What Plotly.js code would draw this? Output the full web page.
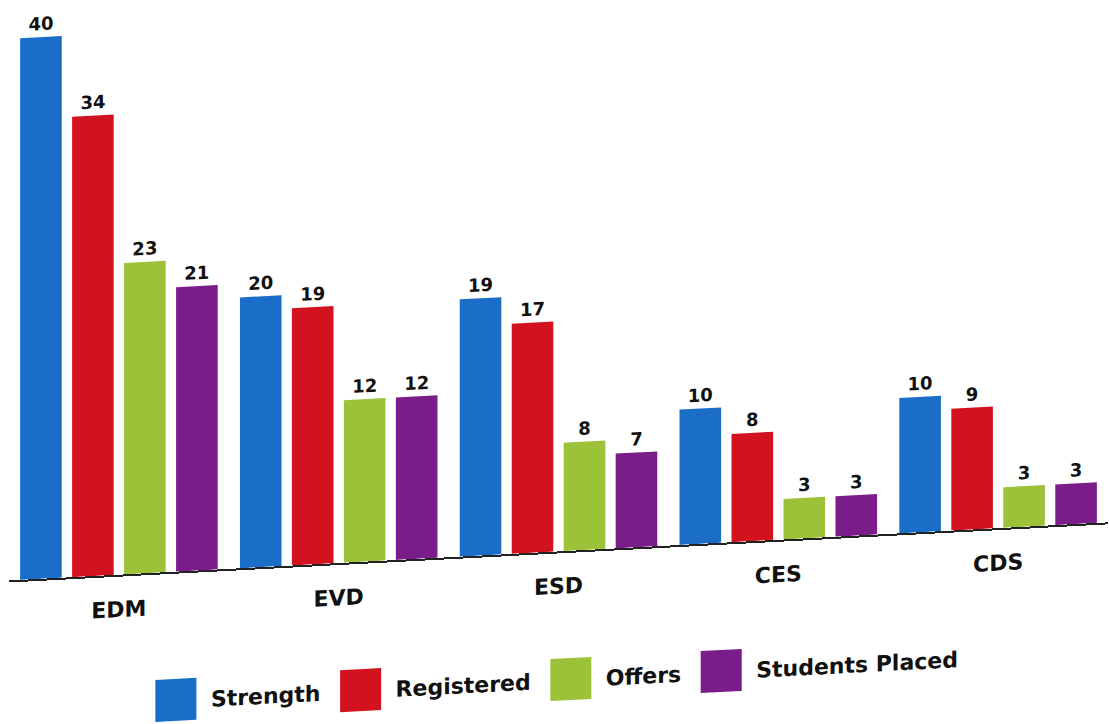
<!DOCTYPE html>
<html><head><meta charset="utf-8">
<script src="https://cdn.plot.ly/plotly-3.0.1.min.js"></script>
<style>
html,body{margin:0;padding:0;background:#fff;overflow:hidden;width:1109px;height:724px;}
#chart{width:1109px;height:760px;transform:skewY(-3.03deg);transform-origin:0 0;}
#chart .legend .scrollbox{clip-path:none !important;}
#chart .legend .legendpoints path{transform:translate(35px,0px) scale(3.42,3.5);}
</style></head><body><div id="chart"></div>
<script>
const categories = ['EDM', 'EVD', 'ESD', 'CES', 'CDS'];
const strength = [40, 20, 19, 10, 10];
const registered = [34, 19, 17, 8, 9];
const offers = [23, 12, 8, 3, 3];
const placed = [21, 12, 7, 3, 3];
const seriesNames = ['Strength', 'Registered', 'Offers', 'Students Placed'];
const seriesColors = ['#1b6ec8', '#d3121f', '#9cc23a', '#7a1d8a'];

const seriesValues = [strength, registered, offers, placed];
const FONT = 'DejaVu Sans, Liberation Sans, Arial, sans-serif';

const traces = seriesValues.map((vals, i) => ({
  type: 'bar',
  name: seriesNames[i],
  x: categories,
  y: vals,
  marker: {color: seriesColors[i], line: {width: 0}},
  text: vals.map(String),
  texttemplate: '%{text}',
  textposition: 'outside',
  textfont: {family: FONT, size: 18, color: '#111', weight: 'bold'},
  cliponaxis: false,
  constraintext: 'none',
  hoverinfo: 'skip'
}));

const layout = {
  width: 1109,
  height: 760,
  margin: {l: 9, r: 1, t: 0, b: 178.5},
  paper_bgcolor: '#fff',
  plot_bgcolor: '#fff',
  barmode: 'group',
  bargap: 0.054,
  bargroupgap: 0.2,
  showlegend: true,
  legend: {
    orientation: 'h',
    x: 0.12, xanchor: 'left',
    y: -0.221, yanchor: 'middle',
    itemwidth: 60,
    font: {family: FONT, size: 22, color: '#111', weight: 'bold'},
    bgcolor: 'rgba(0,0,0,0)',
    borderwidth: 0
  },
  xaxis: {
    type: 'category',
    showline: true, linecolor: '#222', linewidth: 2,
    ticks: '', showgrid: false, zeroline: false,
    tickfont: {family: FONT, size: 22, color: '#111', weight: 'bold'},
    ticklabelstandoff: 14
  },
  yaxis: {
    visible: false, range: [0, 42.9], showgrid: false, zeroline: false
  },
  hovermode: false
};

Plotly.newPlot('chart', traces, layout, {displayModeBar: false, staticPlot: true});
</script>
</body></html>
